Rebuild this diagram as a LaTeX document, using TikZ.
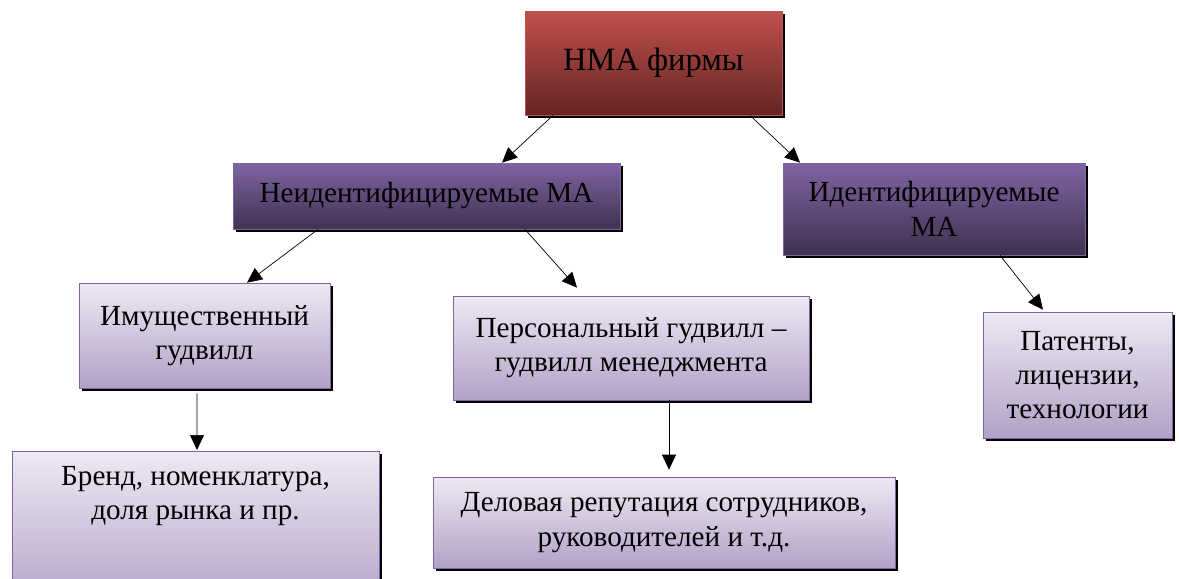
\documentclass[tikz,border=0pt]{standalone}
\usepackage{fontspec}
\setmainfont{Liberation Serif}
\usetikzlibrary{arrows.meta,calc,shadows}
\definecolor{redtop}{RGB}{192,80,77}
\definecolor{redbot}{RGB}{99,37,35}
\definecolor{purtop}{RGB}{128,100,162}
\definecolor{purbot}{RGB}{63,49,81}
\definecolor{littop}{RGB}{237,233,243}
\definecolor{litbot}{RGB}{178,161,199}
\tikzset{
  shbox/.style={drop shadow={shadow xshift=0.06cm,shadow yshift=-0.06cm,fill=black,opacity=1},
    align=center,inner sep=0.2cm,font=\fontsize{16.6}{19.5}\selectfont},
  redbox/.style={shbox,draw=redtop,top color=redtop,bottom color=redbot,font=\fontsize{18.5}{22}\selectfont},
  purbox/.style={shbox,draw=purtop,top color=purtop,bottom color=purbot},
  litbox/.style={shbox,draw=purtop,top color=littop,bottom color=litbot}
}

\begin{document}
\begin{tikzpicture}[x=0.02cm,y=-0.02cm]
\useasboundingbox (0,0) rectangle (1179,578);
\clip (0,0) rectangle (1179,578);
\node[redbox,minimum width=5.14cm,minimum height=2.08cm] (A) at (653.5,63) {НМА фирмы};
\node[purbox,minimum width=7.74cm,minimum height=1.32cm] (B) at (426.5,196) {Неидентифицируемые МА};
\node[purbox,minimum width=6.04cm,minimum height=1.84cm] (C) at (934,209) {Идентифицируемые\\МА};
\node[litbox,minimum width=5.02cm,minimum height=2.10cm] (D) at (204.5,335.5) {Имущественный\\гудвилл};
\node[litbox,minimum width=7.12cm,minimum height=2.08cm] (E) at (631,348) {Персональный гудвилл –\\гудвилл менеджмента};
\node[litbox,minimum width=3.78cm,minimum height=2.52cm] (F) at (1077.5,375) {Патенты,\\лицензии,\\технологии};
\node[litbox,minimum width=7.34cm,anchor=north,inner sep=0.3cm,text depth=1.5cm] (G) at (195.5,451) {Бренд, номенклатура,\\доля рынка и пр.};
\node[litbox,minimum width=9.24cm,minimum height=1.82cm] (H) at (664,522.5) {Деловая репутация сотрудников,\\руководителей и т.д.};
\path[->,>={Triangle[length=0.3cm,width=0.28cm]},thin]
($(A.south)+(-100.5,0)$) edge ($(B.north)+(75.5,0)$)
($(A.south)+(96.5,0)$) edge ($(C.north)+(-134,0)$)
($(B.south)+(-108.5,0)$) edge ($(D.north)+(42.5,0)$)
($(B.south)+(98.5,0)$) edge ($(E.north)+(-54,-8)$)
($(D.south)+(-7.5,5)$) edge ($(G.north)+(1.5,-1)$)
($(E.south)+(38,0)$) edge ($(H.north)+(5,-7)$)
($(C.south)+(66,0)$) edge ($(F.north)+(-34.5,-2)$);
\end{tikzpicture}
\end{document}
